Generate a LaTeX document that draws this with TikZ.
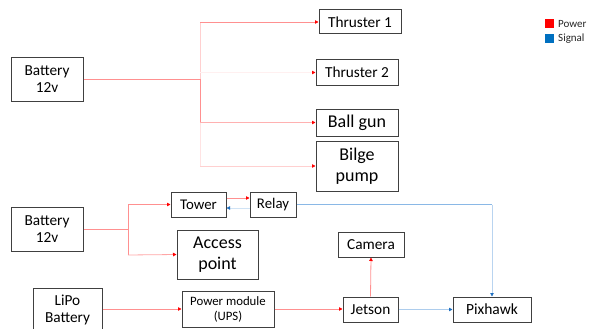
\documentclass[tikz,border=0pt]{standalone}
\usepackage{fontspec}
\setmainfont{Carlito}
\usetikzlibrary{arrows.meta}
\definecolor{pw}{HTML}{FF9090}
\definecolor{pwpale}{HTML}{FFD0D0}
\definecolor{pwfaint}{HTML}{FFF0F0}
\definecolor{sg}{HTML}{8AB8E6}
\definecolor{sgdark}{HTML}{1F6FC0}
\definecolor{legred}{HTML}{FF0000}
\definecolor{legblue}{HTML}{0070C0}
\tikzset{
  box/.style={draw=black!75, line width=1pt, fill=white, inner sep=0pt, align=center, text=black},
  ptip/.style={-{Triangle[length=3.5pt,width=3.5pt,color=red]}},
  stip/.style={-{Triangle[length=3.5pt,width=3.5pt,color=sgdark]}},
  pline/.style={draw=pw, line width=0.8pt},
  sline/.style={draw=sg, line width=0.8pt},
}
\begin{document}
\begin{tikzpicture}[x=1pt,y=-1pt]
\useasboundingbox (0,0) rectangle (589,329);
% nodes
\node[box, minimum width=72pt, minimum height=43pt, font=\fontsize{15.3}{17}\selectfont] (bat1) at (47,79.5) {Battery\\12v};
\node[box, minimum width=82pt, minimum height=24pt, font=\fontsize{15.3}{17}\selectfont] (th1) at (360,22) {Thruster 1};
\node[box, minimum width=82pt, minimum height=25pt, font=\fontsize{15.3}{17}\selectfont] (th2) at (357,72.5) {Thruster 2};
\node[box, minimum width=82pt, minimum height=27pt, font=\fontsize{18}{20}\selectfont] (ball) at (357,122.5) {Ball gun};
\node[box, minimum width=82pt, minimum height=50pt, font=\fontsize{18}{21}\selectfont] (bilge) at (357,166) {Bilge\\pump};
\node[box, minimum width=72pt, minimum height=44pt, font=\fontsize{15.3}{17}\selectfont] (bat2) at (47,229) {Battery\\12v};
\node[box, minimum width=55pt, minimum height=25pt, font=\fontsize{14.8}{17}\selectfont] (tower) at (198.5,204.5) {Tower};
\node[box, minimum width=46pt, minimum height=25pt, font=\fontsize{14.8}{17}\selectfont] (relay) at (273,204.5) {Relay};
\node[box, minimum width=81pt, minimum height=49pt, font=\fontsize{18}{21}\selectfont] (access) at (217.5,254.5) {Access\\point};
\node[box, minimum width=69pt, minimum height=44pt, font=\fontsize{15.3}{17}\selectfont] (lipo) at (67.5,310) {LiPo\\Battery};
\node[box, minimum width=92pt, minimum height=36pt, font=\fontsize{12.8}{15}\selectfont] (pm) at (228,309) {Power module\\(UPS)};
\node[box, minimum width=55pt, minimum height=25pt, font=\fontsize{15.3}{17}\selectfont] (jetson) at (370.5,309.5) {Jetson};
\node[box, minimum width=66pt, minimum height=25pt, font=\fontsize{15.3}{17}\selectfont] (camera) at (371,244.5) {Camera};
\node[box, minimum width=78pt, minimum height=25pt, font=\fontsize{15.5}{17}\selectfont] (pix) at (492,309.5) {Pixhawk};
% legend
\node[fill=legred, minimum size=9pt, inner sep=0pt] (lr) at (549.5,24) {};
\node[fill=legblue, minimum size=9pt, inner sep=0pt] (lb) at (549.5,39) {};
\node[anchor=west, inner sep=0pt, font=\fontsize{11}{13}\selectfont, text=black!85] (lpt) at (558,24) {Power};
\node[anchor=west, inner sep=0pt, font=\fontsize{11}{13}\selectfont, text=black!85] (lst) at (558,39) {Signal};
% junctions
\coordinate (j1) at (200,79.5);
\coordinate (j1a) at (200,22);
\coordinate (j1b) at (200,72.5);
\coordinate (j1c) at (200,122.5);
\coordinate (j1d) at (200,166);
\coordinate (j2) at (128,229);
\coordinate (j2a) at (128,204.5);
\coordinate (j2b) at (128,255);
\coordinate (rp) at (492,204.5);
% top power tree
\draw[pwpale, line width=0.8pt] (j1) -- (j1a);
\draw[pwpale!60, line width=0.8pt] (j1c) -- (j1d);
\draw[pline] (bat1.east) -- (j1) -- (j1c);
\draw[pline, ptip] (j1a) -- (th1.west);
\draw[draw=pwfaint, line width=0.8pt, ptip] (j1b) -- (th2.west);
\draw[draw=pw!70, line width=0.8pt, ptip] (j1c) -- (ball.west);
\draw[draw=pwpale, line width=0.8pt, ptip] (j1d) -- (bilge.west);
% bottom power
\draw[pline] (bat2.east) -- (j2);
\draw[pline] (j2a) -- (j2b);
\draw[pline, ptip] (j2a) -- (tower.west);
\draw[draw=pw!80, line width=0.8pt, ptip] (j2b) -- (access.west);
\draw[pline, ptip] (tower.east |- 0,198) -- (relay.west |- 0,198);
\draw[pline, ptip] (lipo.east |- 0,309) -- (pm.west |- 0,309);
\draw[pline, ptip] (pm.east |- 0,309) -- (jetson.west |- 0,309);
\draw[pline, ptip] (jetson.north) -- (camera.south);
% signal
\draw[draw=sg!40, line width=0.8pt, stip] (relay.west |- 0,208) -- (tower.east |- 0,208);
\draw[sline] (relay.east) -- (rp);
\draw[draw=sg!60, line width=0.8pt, stip] (rp) -- (pix.north);
\draw[draw=sg!70, line width=0.8pt, stip] (jetson.east) -- (pix.west);
\end{tikzpicture}
\end{document}
